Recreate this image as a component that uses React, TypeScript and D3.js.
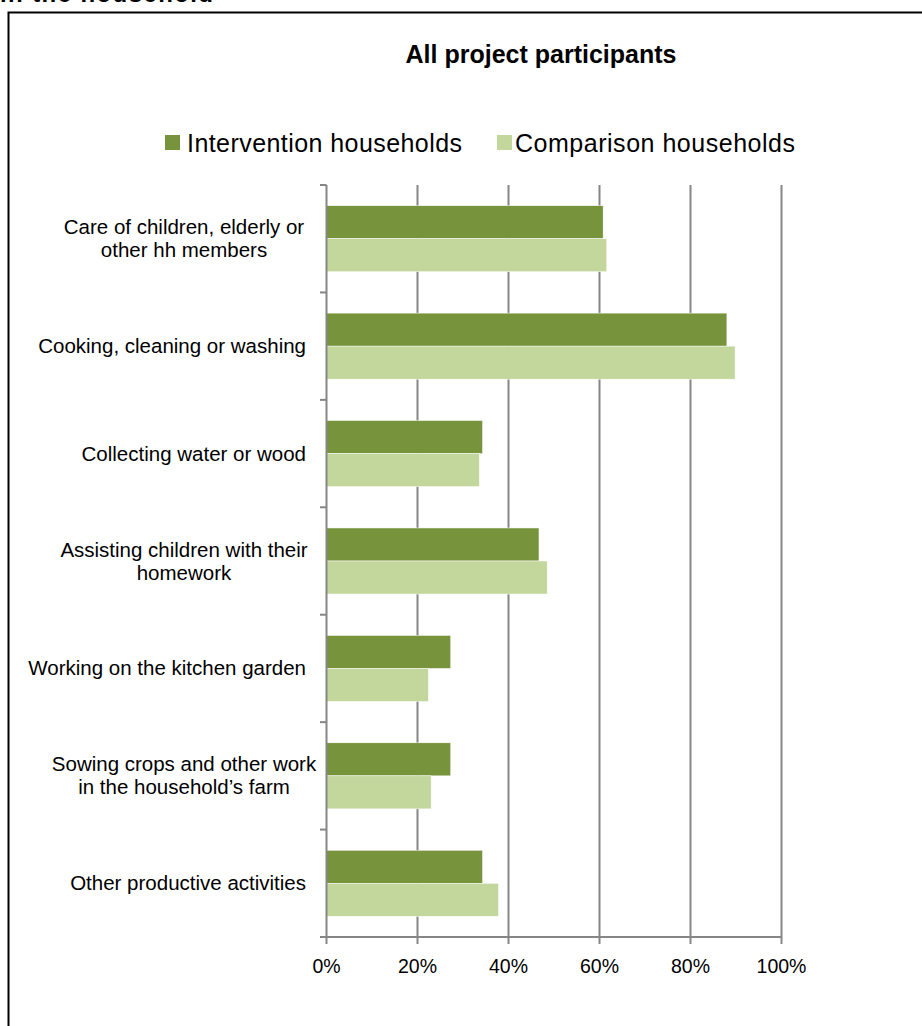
import React from "react";
import * as d3 from "d3";

const categories = [
  ["Care of children, elderly or", "other hh members"],
  ["Cooking, cleaning or washing"],
  ["Collecting water or wood"],
  ["Assisting children with their", "homework"],
  ["Working on the kitchen garden"],
  ["Sowing crops and other work", "in the household\u2019s farm"],
  ["Other productive activities"],
];
const intervention = [60.8, 88.0, 34.3, 46.7, 27.3, 27.3, 34.3];
const comparison = [61.6, 89.8, 33.6, 48.5, 22.4, 23.0, 37.8];
const xTicks = [0, 20, 40, 60, 80, 100];
const seriesNames = ["Intervention households", "Comparison households"];
const colors = ["#77933C", "#C3D69B"];

export default function App() {
  const x = d3.scaleLinear().domain([0, 100]).range([326.5, 781.5]);
  const idx = categories.map((_, i) => String(i));
  const y = d3.scaleBand().domain(idx).range([185, 937]).paddingInner(0.385).paddingOuter(0.1925);
  const ySub = d3.scaleBand().domain(["0", "1"]).range([0, y.bandwidth()]);
  const step = y.step();
  const font = "Liberation Sans, Arial, sans-serif";
  const grid = "#868686";
  const boundaries = d3.range(categories.length + 1).map((i) => 185 + i * step);

  return (
    <svg width={922} height={1026} style={{ position: "absolute", left: 0, top: 0 }} fontFamily={font}>
      <rect width={922} height={1026} fill="#fff" />
      <text x={0} y={2} fontSize={24} fontWeight="bold" fill="#000" textLength={213} lengthAdjust="spacing">in the household</text>
      <path d="M8.5,1030 V12.5 H930" fill="none" stroke="#000" strokeWidth={2} />
      <text x={541} y={63} textAnchor="middle" fontSize={25} fontWeight="bold" fill="#000">All project participants</text>
      {/* legend */}
      <rect x={165} y={135} width={15} height={15} fill={colors[0]} />
      <text x={187} y={152} fontSize={25} fill="#000" textLength={275} lengthAdjust="spacing">{seriesNames[0]}</text>
      <rect x={497} y={135} width={15} height={15} fill={colors[1]} />
      <text x={515} y={152} fontSize={25} fill="#000" textLength={280} lengthAdjust="spacing">{seriesNames[1]}</text>
      {/* grid */}
      {xTicks.slice(1).map((t) => (
        <line key={t} x1={x(t)} x2={x(t)} y1={185} y2={937} stroke={grid} strokeWidth={2} />
      ))}
      {/* bars */}
      {categories.map((_, i) => (
        <g key={i} transform={`translate(0,${y(String(i))})`}>
          <rect x={x(0)} y={ySub("0")} width={x(intervention[i]) - x(0)} height={ySub.bandwidth()} fill={colors[0]} stroke="#fff" strokeWidth={0.5} />
          <rect x={x(0)} y={ySub("1")} width={x(comparison[i]) - x(0)} height={ySub.bandwidth()} fill={colors[1]} stroke="#fff" strokeWidth={0.5} />
        </g>
      ))}
      {/* y axis */}
      <line x1={x(0)} x2={x(0)} y1={185} y2={937} stroke={grid} strokeWidth={2} />
      {boundaries.map((b, i) => (
        <line key={i} x1={320} x2={x(0)} y1={b} y2={b} stroke={grid} strokeWidth={2} />
      ))}
      {/* x axis */}
      <line x1={320} x2={x(100)} y1={937} y2={937} stroke={grid} strokeWidth={2} />
      {xTicks.map((t) => (
        <g key={t}>
          <line x1={x(t)} x2={x(t)} y1={937} y2={944} stroke={grid} strokeWidth={2} />
          <text x={x(t)} y={973} textAnchor="middle" fontSize={19.5} fill="#000">{t}%</text>
        </g>
      ))}
      {/* category labels */}
      {categories.map((lines, i) => {
        const cy = 185 + (i + 0.5) * step;
        const lh = 23;
        const start = cy - ((lines.length - 1) * lh) / 2 + 7;
        return (
          <text key={i} fontSize={20.5} fill="#000">
            {lines.map((l, j) => (
              <tspan key={j} x={lines.length > 1 ? 184 : 306} y={start + j * lh} textAnchor={lines.length > 1 ? "middle" : "end"}>{l}</tspan>
            ))}
          </text>
        );
      })}
    </svg>
  );
}
